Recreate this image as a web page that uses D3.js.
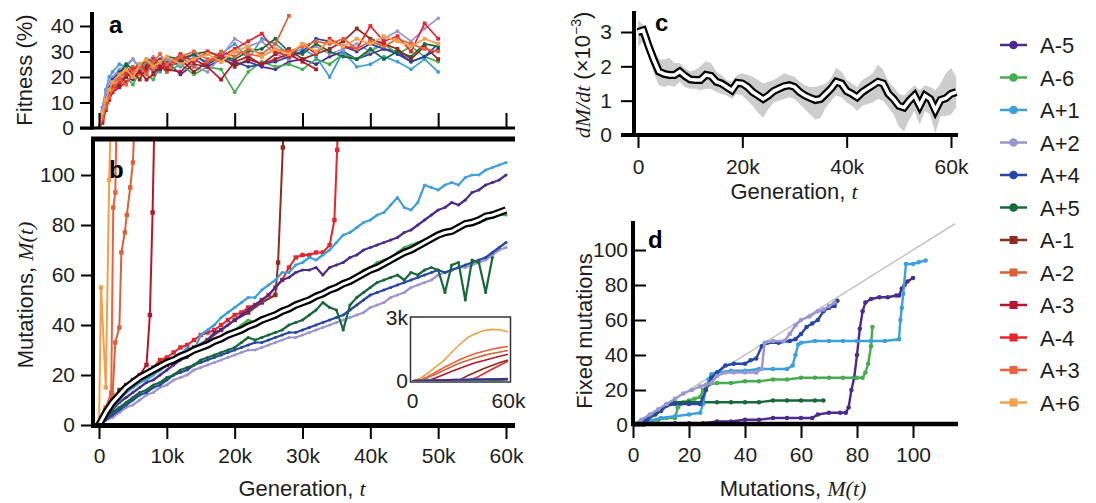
<!DOCTYPE html>
<html>
<head>
<meta charset="utf-8">
<script src="https://cdn.jsdelivr.net/npm/d3@7"></script>
<style>
  body { margin: 0; background: #fff; }
</style>
</head>
<body>
<svg id="fig" width="1096" height="503"></svg>
<script>

// ---------- populations ----------
const names = ['A-5', 'A-6', 'A+1', 'A+2', 'A+4', 'A+5', 'A-1', 'A-2', 'A-3', 'A-4', 'A+3', 'A+6'];
const colors = ['#4b2c8c', '#45ad4e', '#3d9fdb', '#9c96cf', '#2647a6', '#17693a',
                '#8b2e1d', '#d6633a', '#b4172e', '#e6262b', '#f0603c', '#f4a04b'];
const mutators = ['A-1', 'A-2', 'A-3', 'A-4', 'A+3', 'A+6'];

// ---------- panel a: fitness (%) ----------
const gensA = [0, 0.5, 1, 1.5, 2, 3, 4, 5, 6, 7, 8, 9, 10, 12, 14, 16, 18, 20, 22, 24, 26, 28, 30, 32, 34, 36, 38, 40, 42, 44, 46, 48, 50];
const fitAm5 = [0, 6, 12, 16, 18, 20, 22, 19, 23, 25, 22, 24, 26, 21, 25, 24, 27, 25, 26, 24, 23, 26, 27, 25, 28, 30, 27, 29, 31, 30, 26, 28, 31];
const fitAm6 = [0, 5, 10, 13, 15, 18, 20, 17, 22, 21, 19, 24, 22, 25, 21, 24, 23, 14, 22, 26, 24, 25, 23, 27, 25, 29, 27, 30, 33, 29, 32, 28, 26];
const fitAp1 = [0, 8, 15, 20, 22, 25, 24, 27, 23, 26, 25, 22, 27, 24, 28, 26, 29, 33, 27, 35, 33, 29, 31, 28, 20, 30, 24, 25, 28, 26, 23, 27, 22];
const fitAp2 = [0, 7, 14, 18, 20, 23, 25, 27, 24, 26, 28, 25, 27, 26, 24, 22, 28, 35, 32, 34, 29, 27, 30, 32, 29, 31, 33, 30, 35, 38, 34, 39, 43];
const fitAp4 = [0, 5, 11, 14, 19, 22, 24, 21, 25, 23, 26, 27, 24, 26, 29, 25, 28, 26, 24, 25, 26, 28, 30, 35, 34, 32, 30, 33, 31, 29, 26, 28, 33];
const fitAp5 = [0, 4, 9, 13, 17, 21, 25, 23, 24, 27, 26, 25, 28, 27, 29, 30, 28, 27, 30, 31, 35, 30, 29, 33, 30, 28, 27, 31, 27, 30, 28, 33, 32];
const fitAm1 = [0, 3, 8, 12, 15, 17, 20, 22, 19, 24, 26, 23, 25, 27, 22, 26, 28, 24, 27, 25, 29, 31, 27, 29, 31, 34, 39, 35, 33, 31, 27, 32, 27];
const fitAm2 = [0, 4, 10, 14, 17, 20, 22, 24, 21, 26, 23, 25, 22, 28, 24, 26, 30, 28, 31, 29, 33, 44];
const fitAm3 = [0, 2, 7, 11, 14, 16, 18, 20, 22, 19, 21, 24, 23, 22, 27, 24, 19, 26, 28, 25, 27, 29, 26, 23];
const fitAm4 = [0, 3, 9, 13, 16, 18, 21, 23, 25, 22, 27, 26, 24, 29, 26, 30, 28, 31, 34, 37, 30, 28, 33, 29, 35, 32, 31, 40, 34, 36, 30, 41, 35];
const fitAp3 = [0, 4, 8, 12, 15, 19, 17, 22, 24, 21, 26, 29, 25, 28, 30, 27, 26, 30, 29, 28, 31, 30, 32, 34, 33, 35, 31, 34, 32, 35, 33, 31, 30];
const fitAp6 = [0, 6, 11, 15, 18, 21, 23, 20, 25, 27, 24, 26, 28, 25, 27, 29, 26, 30, 32, 28, 31, 29, 33, 30, 34, 32, 35, 33, 36, 34, 32, 35, 33];

// ---------- panel b: mutations M(t), non-mutators every 1k generations ----------
const gensB = [0, 1, 2, 3, 4, 5, 6, 7, 8, 9, 10, 11, 12, 13, 14, 15, 16, 17, 18, 19, 20, 21, 22, 23, 24, 25, 26, 27, 28, 29,
               30, 31, 32, 33, 34, 35, 36, 37, 38, 39, 40, 41, 42, 43, 44, 45, 46, 47, 48, 49, 50, 51, 52, 53, 54, 55, 56, 57, 58, 59, 60];
const mutAm5 = [0, 3, 6, 9, 11, 13, 15, 17, 18, 20, 22, 24, 26, 27, 30, 32, 34, 37, 38, 40, 42, 44, 46, 48, 50, 52, 55, 58, 59, 61,
                62, 62, 63, 60, 63, 64, 65, 67, 68, 70, 71, 72, 73, 74, 75, 77, 78, 80, 82, 84, 86, 87, 89, 88, 90, 93, 94, 96, 97, 98, 100];
const mutAm6 = [0, 4, 8, 10, 13, 15, 17, 19, 21, 22, 24, 25, 26, 28, 29, 31, 32, 33, 35, 37, 38, 40, 42, 41, 43, 44, 45, 46, 47, 48,
                49, 50, 52, 53, 54, 55, 57, 58, 60, 62, 63, 65, 66, 67, 69, 71, 72, 73, 74, 75, 76, 77, 78, 79, 81, 80, 81, 82, 83, 84, 84];
const mutAp1 = [0, 4, 7, 10, 13, 15, 17, 18, 20, 22, 24, 26, 28, 31, 30, 36, 38, 40, 43, 45, 47, 49, 51, 51, 54, 56, 58, 61, 61, 64,
                65, 67, 66, 68, 70, 73, 76, 77, 79, 81, 82, 84, 85, 88, 91, 87, 86, 89, 96, 95, 94, 96, 97, 96, 99, 100, 100, 102, 103, 104, 105];
const mutAp2 = [0, 2, 3, 5, 7, 8, 10, 12, 13, 15, 16, 18, 19, 20, 22, 23, 24, 25, 26, 27, 28, 29, 30, 30, 31, 32, 33, 34, 35, 35,
                36, 37, 38, 39, 40, 41, 42, 43, 44, 45, 47, 48, 49, 51, 52, 53, 55, 56, 57, 58, 60, 61, 62, 63, 63, 64, 65, 66, 68, 70, 71];
const mutAp4 = [0, 2, 4, 6, 8, 10, 12, 13, 15, 16, 18, 20, 21, 22, 24, 25, 26, 27, 28, 29, 30, 31, 32, 33, 33, 34, 35, 36, 37, 37,
                38, 39, 40, 41, 42, 43, 44, 46, 48, 50, 52, 53, 54, 55, 56, 57, 58, 59, 60, 61, 62, 61, 62, 63, 64, 65, 66, 67, 69, 71, 73];
const mutAp5 = [0, 3, 5, 7, 9, 11, 13, 14, 16, 17, 19, 20, 22, 23, 24, 26, 27, 28, 29, 30, 31, 33, 35, 34, 35, 36, 37, 38, 40, 41,
                42, 44, 46, 49, 47, 46, 38, 48, 51, 53, 55, 57, 58, 59, 60, 58, 61, 60, 62, 63, 62, 53, 64, 65, 50, 66, 65, 53, 67];
const mutMean = [0, 5, 9, 12, 15, 17, 19, 20.5, 22, 23.5, 25, 26, 27.5, 28.5, 30, 31, 32, 33.5, 34.5, 36, 37, 38, 39.5, 40.5, 42, 43, 44, 45.5, 46.5, 48,
                 49, 50, 51.5, 52.5, 54, 55, 56.5, 57.5, 59, 60.5, 62, 63, 64.5, 66, 67.5, 69, 70, 71.5, 73, 74.5, 76, 77, 77.5, 79, 80.5, 81, 82, 83.5, 84, 85, 86];

// mutators (own sampling, leave the axis)
const genAp6 = [0, 0.3, 1, 1.5, 1.9];
const mutAp6 = [0, 55, 15, 98, 140];
const genAp3 = [0, 1, 1.8, 2.1, 2.4, 2.7];
const mutAp3 = [0, 7, 13, 87, 93, 140];
const genAm2 = [0, 1, 2, 2.4, 3, 3.3, 3.8, 4.1, 4.6, 5, 5.5];
const mutAm2 = [0, 6, 12, 33, 39, 69, 77, 84, 95, 105, 140];
const genAm3 = [0, 1, 2, 3, 4, 5, 6, 7, 7.5, 7.9, 8.3];
const mutAm3 = [0, 6, 10, 14, 16, 18, 20, 24, 44, 85, 140];
const genAm1 = [0, 2, 4, 6, 8, 10, 12, 14, 16, 18, 20, 22, 24, 26, 26.4, 27.1, 27.5];
const mutAm1 = [0, 9, 14, 18, 21, 24, 28, 31, 34, 38, 42, 45, 49, 52, 65, 111, 140];
const genAm4 = [0, 1, 2, 3, 4, 5, 6, 7, 8, 9, 10, 11, 12, 13, 14, 15, 16, 17, 18, 19, 20, 21, 22, 23, 24, 25, 26, 27, 28, 29, 30, 31, 32, 33, 34, 34.7, 35.1, 35.5];
const mutAm4 = [0, 6, 9, 12, 14, 16, 18, 20, 23, 26, 27, 29, 31, 32, 34, 36, 37, 38, 40, 42, 44, 45, 47, 48, 50, 52, 55, 58, 63, 67, 68, 68, 69, 69, 72, 82, 110, 140];

// inset: mutators on a 0-3k scale
const gensInset = [0, 5, 10, 15, 20, 25, 30, 35, 40, 45, 50, 55, 60];
const insAp6 = [0, 120, 380, 680, 980, 1380, 1750, 2080, 2260, 2400, 2460, 2440, 2340];
const insAp3 = [0, 40, 220, 430, 640, 830, 1020, 1180, 1320, 1420, 1510, 1590, 1640];
const insAm2 = [0, 15, 160, 330, 510, 690, 860, 990, 1110, 1220, 1310, 1380, 1450];
const insAm3 = [0, 0, 20, 160, 310, 460, 610, 750, 880, 980, 1080, 1180, 1270];
const insAm1 = [0, 0, 0, 0, 0, 0, 60, 260, 430, 590, 740, 880, 1000];
const insAm4 = [0, 0, 0, 0, 0, 0, 0, 20, 150, 360, 560, 760, 950];

// ---------- panel c: dM/dt (x10^-3) ----------
const gensC = [0, 1, 2, 3, 4, 5, 6, 7, 8, 9, 10, 11, 12, 13, 14, 15, 16, 17, 18, 19, 20, 21, 22, 23, 24, 25, 26, 27, 28, 29, 30,
               31, 32, 33, 34, 35, 36, 37, 38, 39, 40, 41, 42, 43, 44, 45, 46, 47, 48, 49, 50, 51, 52, 53, 54, 55, 56, 57, 58, 59, 60, 61];
const rateMean = [3.0, 3.05, 2.6, 2.2, 1.85, 1.78, 1.75, 1.75, 1.85, 1.72, 1.62, 1.6, 1.6, 1.75, 1.72, 1.55, 1.5, 1.4, 1.3, 1.52,
                  1.5, 1.4, 1.25, 1.15, 1.05, 1.15, 1.28, 1.35, 1.42, 1.45, 1.4, 1.25, 1.15, 1.08, 1.02, 1.05, 1.2, 1.35, 1.55, 1.5,
                  1.28, 1.2, 1.1, 1.25, 1.35, 1.45, 1.55, 1.5, 1.2, 1.05, 0.85, 0.8, 1.0, 1.15, 0.85, 1.15, 1.05, 0.72, 1.02, 1.07, 1.2, 1.25];
const rateHi = [3.35, 3.2, 2.9, 2.5, 2.2, 2.2, 2.25, 2.1, 2.1, 1.95, 1.85, 1.9, 2.0, 2.15, 2.1, 1.85, 1.75, 1.6, 1.55, 1.75,
                1.8, 1.75, 1.7, 1.6, 1.5, 1.55, 1.6, 1.7, 1.8, 1.75, 1.7, 1.55, 1.45, 1.4, 1.4, 1.45, 1.5, 1.65, 1.95, 1.85,
                1.6, 1.5, 1.4, 1.6, 1.7, 1.8, 2.05, 1.9, 1.55, 1.4, 1.2, 1.15, 1.3, 1.45, 1.3, 1.45, 1.4, 1.3, 1.5, 1.8, 1.95, 1.7];
const rateLo = [2.6, 2.7, 2.3, 1.8, 1.45, 1.4, 1.45, 1.4, 1.55, 1.4, 1.35, 1.35, 1.3, 1.35, 1.35, 1.25, 1.2, 1.15, 1.05, 1.2,
                1.15, 1.0, 0.85, 0.65, 0.5, 0.75, 0.95, 1.0, 1.05, 1.1, 1.05, 0.9, 0.75, 0.6, 0.45, 0.5, 0.8, 1.0, 1.15, 1.1,
                0.95, 0.85, 0.7, 0.85, 0.9, 0.95, 1.05, 1.0, 0.8, 0.6, 0.25, 0.1, 0.45, 0.7, 0.3, 0.7, 0.6, 0.05, 0.55, 0.55, 0.6, 0.8];

// ---------- panel d: fixed mutations vs M(t) ----------
const dMutAm5 = [0, 5, 10, 15, 20, 25, 30, 35, 40, 45, 50, 55, 60, 64, 66, 70, 74, 76, 77, 78, 79, 80, 81, 82, 83, 85, 88, 91, 94, 95, 96, 97, 98, 100];
const dFixAm5 = [0, 0, 0, 1, 1, 1, 2, 2, 3, 3, 4, 4, 4, 4, 6, 7, 7, 7, 10, 20, 27, 40, 55, 65, 70, 72, 73, 73, 74, 74, 78, 80, 82, 84];
const dMutAm6 = [0, 3, 6, 9, 12, 15, 16, 18, 20, 22, 24, 25, 27, 30, 35, 40, 45, 50, 55, 60, 65, 70, 75, 80, 82, 83, 84, 85, 85.5];
const dFixAm6 = [0, 1, 2, 3, 4, 4, 10, 13, 14, 15, 16, 20, 23, 24, 24, 25, 25, 26, 26, 27, 27, 27, 27, 27, 27, 30, 35, 45, 56];
const dMutAp1 = [0, 5, 10, 15, 20, 24, 25, 26, 27, 28, 30, 35, 40, 45, 50, 55, 57, 58, 59, 60, 65, 70, 75, 80, 85, 90, 95, 95.5, 96, 96.5, 97.5, 100, 102, 104.5];
const dFixAp1 = [0, 2, 4, 5, 6, 7, 12, 20, 26, 29, 30, 31, 31, 32, 32, 32, 34, 40, 46, 47, 48, 48, 48, 48, 48, 48, 49, 60, 67, 75, 92, 92, 93, 94];
const dMutAp2 = [0, 3, 6, 9, 12, 15, 18, 21, 24, 26, 28, 30, 33, 36, 40, 44, 46, 47, 50, 54, 56, 58, 60, 63, 66, 68, 70, 72];
const dFixAp2 = [0, 3, 6, 9, 12, 15, 18, 20, 22, 23, 24, 28, 30, 30, 30, 30, 32, 47, 48, 48, 52, 57, 60, 62, 65, 66, 68, 70];
const dMutAp4 = [0, 5, 10, 12, 15, 20, 24, 26, 28, 30, 33, 36, 40, 42, 44, 46, 48, 52, 56, 58, 60, 62, 64, 66, 68, 70, 72, 73];
const dFixAp4 = [0, 3, 8, 11, 12, 12, 12, 20, 27, 30, 34, 35, 35, 37, 38, 45, 47, 47, 48, 49, 52, 56, 58, 60, 65, 67, 68, 71];
const dMutAp5 = [0, 4, 8, 10, 12, 15, 20, 25, 30, 35, 40, 45, 50, 55, 60, 65, 68];
const dFixAp5 = [0, 3, 6, 9, 12, 13, 13, 13, 13, 13, 13, 13, 14, 14, 14, 14, 14];

// ---------- tick labels ----------
const ticksGen = [0, 10, 20, 30, 40, 50, 60];
const ticksGenC = [0, 20, 40, 60];
const ticksFit = [0, 10, 20, 30, 40];
const ticksMut = [0, 20, 40, 60, 80, 100];
const ticksRate = [0, 1, 2, 3];

// ================================================================
const font = '"Liberation Sans", Arial, sans-serif';
const serif = '"Liberation Serif", "Times New Roman", serif';
const ink = '#1e1e1e';
const svg = d3.select('#fig');
const color = d3.scaleOrdinal().domain(names).range(colors);
const kfmt = d => d === 0 ? '0' : d + 'k';
const ifmt = d3.format('d');

const clip = (id, x, y, w, h) => {
  svg.append('clipPath').attr('id', id)
    .append('rect').attr('x', x).attr('y', y).attr('width', w).attr('height', h);
};

const bar = (x1, y1, x2, y2, w) => {
  svg.append('line')
    .attr('x1', x1).attr('y1', y1).attr('x2', x2).attr('y2', y2)
    .attr('stroke', '#000').attr('stroke-width', w);
};

const styleAxis = (g) => {
  g.attr('font-family', font).attr('font-size', 21);
  g.select('.domain').remove();
  g.selectAll('.tick line').attr('stroke', '#000').attr('stroke-width', 2);
  g.selectAll('.tick text').attr('fill', ink);
};

const series = (g, xs, ys, name, x, y, opt) => {
  const pts = xs.map((v, i) => [v, ys[i]]).filter(p => p[1] != null);
  g.append('path')
    .datum(pts)
    .attr('fill', 'none')
    .attr('stroke', color(name))
    .attr('stroke-width', opt.width)
    .attr('stroke-linejoin', 'round')
    .attr('d', d3.line().x(p => x(p[0])).y(p => y(p[1])));
  if (!opt.marker) return;
  if (mutators.includes(name)) {
    g.selectAll(null).data(pts).enter().append('rect')
      .attr('x', p => x(p[0]) - opt.marker)
      .attr('y', p => y(p[1]) - opt.marker)
      .attr('width', opt.marker * 2).attr('height', opt.marker * 2)
      .attr('fill', color(name));
  } else {
    g.selectAll(null).data(pts).enter().append('circle')
      .attr('cx', p => x(p[0])).attr('cy', p => y(p[1]))
      .attr('r', opt.marker)
      .attr('fill', color(name));
  }
};

const title = (x, y, rotate, parts) => {
  const t = svg.append('text')
    .attr('transform', `translate(${x},${y})` + (rotate ? 'rotate(-90)' : ''))
    .attr('text-anchor', 'middle')
    .attr('font-family', font)
    .attr('font-size', 22)
    .attr('fill', ink);
  parts.forEach(p => {
    const s = t.append('tspan').text(p.t);
    if (p.i) s.attr('font-family', serif).attr('font-style', 'italic');
    if (p.sup) s.attr('font-size', 14).attr('dy', -9);
    if (p.down) s.attr('dy', 9);
  });
};

const letter = (x, y, s) => {
  svg.append('text').attr('x', x).attr('y', y)
    .attr('font-family', font).attr('font-size', 24).attr('font-weight', 'bold')
    .attr('fill', '#000').text(s);
};

// ---------------- panel a ----------------
const xA = d3.scaleLinear().domain([0, 60]).range([99, 506]);
const yA = d3.scaleLinear().domain([0, 40]).range([128, 26]);
clip('clipA', 94, 8, 421, 120);
const gA = svg.append('g').attr('clip-path', 'url(#clipA)');
[[fitAm5, 'A-5'], [fitAm6, 'A-6'], [fitAp1, 'A+1'], [fitAp2, 'A+2'], [fitAp4, 'A+4'], [fitAp5, 'A+5'],
 [fitAm1, 'A-1'], [fitAm2, 'A-2'], [fitAm3, 'A-3'], [fitAm4, 'A-4'], [fitAp3, 'A+3'], [fitAp6, 'A+6']]
  .forEach(([vals, name]) => series(gA, gensA, vals, name, xA, yA, { width: 1.7, marker: 1.9 }));

svg.append('g').attr('transform', 'translate(92,0)')
  .call(d3.axisLeft(yA).tickValues(ticksFit).tickSize(12).tickPadding(6).tickFormat(ifmt))
  .call(styleAxis);
svg.append('g').attr('transform', 'translate(0,128)')
  .call(d3.axisBottom(xA).tickValues(ticksGen).tickSize(-15).tickFormat(''))
  .call(styleAxis);
bar(92, 12, 92, 129.5, 4);
bar(80, 128, 515, 128, 3);
letter(109, 33, 'a');
title(32, 70, true, [{ t: 'Fitness (%)' }]);

// ---------------- panel b ----------------
const xB = d3.scaleLinear().domain([0, 60]).range([99, 506]);
const yB = d3.scaleLinear().domain([0, 100]).range([425, 175]);
clip('clipB', 95, 141, 420, 284);
const gB = svg.append('g').attr('clip-path', 'url(#clipB)');

[[genAp6, mutAp6, 'A+6'], [genAp3, mutAp3, 'A+3'], [genAm2, mutAm2, 'A-2'], [genAm3, mutAm3, 'A-3'],
 [genAm1, mutAm1, 'A-1'], [genAm4, mutAm4, 'A-4']]
  .forEach(([gens, vals, name]) => series(gB, gens, vals, name, xB, yB, { width: 2, marker: 2.2 }));

[[mutAp2, 'A+2'], [mutAp4, 'A+4'], [mutAp5, 'A+5'], [mutAm6, 'A-6'], [mutAm5, 'A-5'], [mutAp1, 'A+1']]
  .forEach(([vals, name]) => series(gB, gensB, vals, name, xB, yB, { width: 2.2, marker: 1.6 }));

const meanLine = d3.line().x((d, i) => xB(gensB[i])).y(d => yB(d));
gB.append('path').datum(mutMean).attr('fill', 'none').attr('stroke', '#000').attr('stroke-width', 7.5).attr('d', meanLine);
gB.append('path').datum(mutMean).attr('fill', 'none').attr('stroke', '#fff').attr('stroke-width', 3).attr('d', meanLine);

svg.append('g').attr('transform', 'translate(93,0)')
  .call(d3.axisLeft(yB).tickValues(ticksMut).tickSize(12).tickPadding(6).tickFormat(ifmt))
  .call(styleAxis);
svg.append('g').attr('transform', 'translate(0,425)')
  .call(d3.axisBottom(xB).tickValues(ticksGen).tickSize(14).tickPadding(9).tickFormat(kfmt))
  .call(styleAxis);
bar(93, 137, 93, 428, 4);
bar(91, 139, 515, 139, 5);
bar(91, 425.5, 515, 425.5, 5);
letter(109, 178, 'b');
title(33, 295, true, [{ t: 'Mutations, ' }, { t: 'M(t)', i: true }]);
title(302, 496, false, [{ t: 'Generation, ' }, { t: 't', i: true }]);

// inset
const xI = d3.scaleLinear().domain([0, 60]).range([412, 508]);
const yI = d3.scaleLinear().domain([0, 3000]).range([381, 318]);
svg.append('rect').attr('x', 410.5).attr('y', 317).attr('width', 100).attr('height', 65)
  .attr('fill', '#fff').attr('stroke', '#333').attr('stroke-width', 1.5);
clip('clipI', 411, 318, 99, 63);
const gI = svg.append('g').attr('clip-path', 'url(#clipI)');
[[insAp6, 'A+6'], [insAp3, 'A+3'], [insAm2, 'A-2'], [insAm3, 'A-3'], [insAm1, 'A-1'], [insAm4, 'A-4']]
  .forEach(([vals, name]) => series(gI, gensInset, vals, name, xI, yI, { width: 1.6 }));
[[mutAp2, 'A+2'], [mutAp4, 'A+4'], [mutAp5, 'A+5'], [mutAm6, 'A-6'], [mutAp1, 'A+1'], [mutAm5, 'A-5']]
  .forEach(([vals, name]) => series(gI, gensB, vals, name, xI, yI, { width: 2 }));
svg.append('g').attr('transform', 'translate(410,0)')
  .call(d3.axisLeft(yI).tickValues([0, 3000]).tickSize(0).tickPadding(2).tickFormat(d => d === 0 ? '0' : d / 1000 + 'k'))
  .call(styleAxis);
svg.append('g').attr('transform', 'translate(0,382)')
  .call(d3.axisBottom(xI).tickValues([0, 60]).tickSize(0).tickPadding(11).tickFormat(kfmt))
  .call(styleAxis);

// ---------------- panel c ----------------
const xC = d3.scaleLinear().domain([0, 60]).range([638, 951]);
const yC = d3.scaleLinear().domain([0, 3]).range([135, 32]);
const band = d3.area().x((d, i) => xC(gensC[i])).y0((d, i) => yC(rateLo[i])).y1(d => yC(d));
svg.append('path').datum(rateHi).attr('fill', '#cdcdcd').attr('d', band);
const rateLine = d3.line().x((d, i) => xC(gensC[i])).y(d => yC(d));
svg.append('path').datum(rateMean).attr('fill', 'none').attr('stroke', '#000').attr('stroke-width', 8).attr('d', rateLine);
svg.append('path').datum(rateMean).attr('fill', 'none').attr('stroke', '#fff').attr('stroke-width', 3.5).attr('d', rateLine);

svg.append('g').attr('transform', 'translate(634,0)')
  .call(d3.axisLeft(yC).tickValues(ticksRate).tickSize(13).tickPadding(9).tickFormat(ifmt))
  .call(styleAxis);
svg.append('g').attr('transform', 'translate(0,135)')
  .call(d3.axisBottom(xC).tickValues(ticksGenC).tickSize(13).tickPadding(11).tickFormat(kfmt))
  .call(styleAxis);
bar(634, 11, 634, 137, 4);
bar(621, 135, 958, 135, 4);
letter(655, 31, 'c');
title(590, 75, true, [{ t: 'dM/dt', i: true }, { t: ' (×10' }, { t: '−3', sup: true }, { t: ')', down: true }]);
title(794, 199, false, [{ t: 'Generation, ' }, { t: 't', i: true }]);

// ---------------- panel d ----------------
const xD = d3.scaleLinear().domain([0, 100]).range([633, 913]);
const yD = d3.scaleLinear().domain([0, 100]).range([425, 250]);
svg.append('line')
  .attr('x1', xD(0)).attr('y1', yD(0)).attr('x2', xD(115)).attr('y2', yD(115))
  .attr('stroke', '#c4c4c4').attr('stroke-width', 1.5);
clip('clipD', 633, 215, 330, 210);
const gD = svg.append('g').attr('clip-path', 'url(#clipD)');
[[dMutAm5, dFixAm5, 'A-5'], [dMutAm6, dFixAm6, 'A-6'], [dMutAp5, dFixAp5, 'A+5'],
 [dMutAp1, dFixAp1, 'A+1'], [dMutAp4, dFixAp4, 'A+4'], [dMutAp2, dFixAp2, 'A+2']]
  .forEach(([xs, ys, name]) => series(gD, xs, ys, name, xD, yD, { width: 2.4, marker: 2.3 }));

svg.append('g').attr('transform', 'translate(633,0)')
  .call(d3.axisLeft(yD).tickValues(ticksMut).tickSize(-13).tickPadding(5).tickFormat(ifmt))
  .call(styleAxis);
svg.append('g').attr('transform', 'translate(0,424)')
  .call(d3.axisBottom(xD).tickValues(ticksMut).tickSize(14).tickPadding(9).tickFormat(ifmt))
  .call(styleAxis);
bar(633, 221, 633, 426, 4);
bar(631, 424, 958, 424, 4.5);
letter(648, 248, 'd');
title(592, 331, true, [{ t: 'Fixed mutations' }]);
title(793, 496, false, [{ t: 'Mutations, ' }, { t: 'M(t)', i: true }]);

// ---------------- legend ----------------
const legend = svg.append('g').attr('transform', 'translate(1000, 45)');
names.forEach((name, i) => {
  const row = legend.append('g').attr('transform', `translate(0, ${i * 32.5})`);
  row.append('line').attr('x1', 0).attr('x2', 27).attr('stroke', color(name)).attr('stroke-width', 2.5);
  if (mutators.includes(name)) {
    row.append('rect').attr('x', 9.5).attr('y', -4).attr('width', 8).attr('height', 8).attr('fill', color(name));
  } else {
    row.append('circle').attr('cx', 13.5).attr('r', 4.3).attr('fill', color(name));
  }
  row.append('text').attr('x', 40).attr('y', 8)
    .attr('font-family', font).attr('font-size', 22).attr('fill', ink)
    .text(name);
});

</script>
</body>
</html>
